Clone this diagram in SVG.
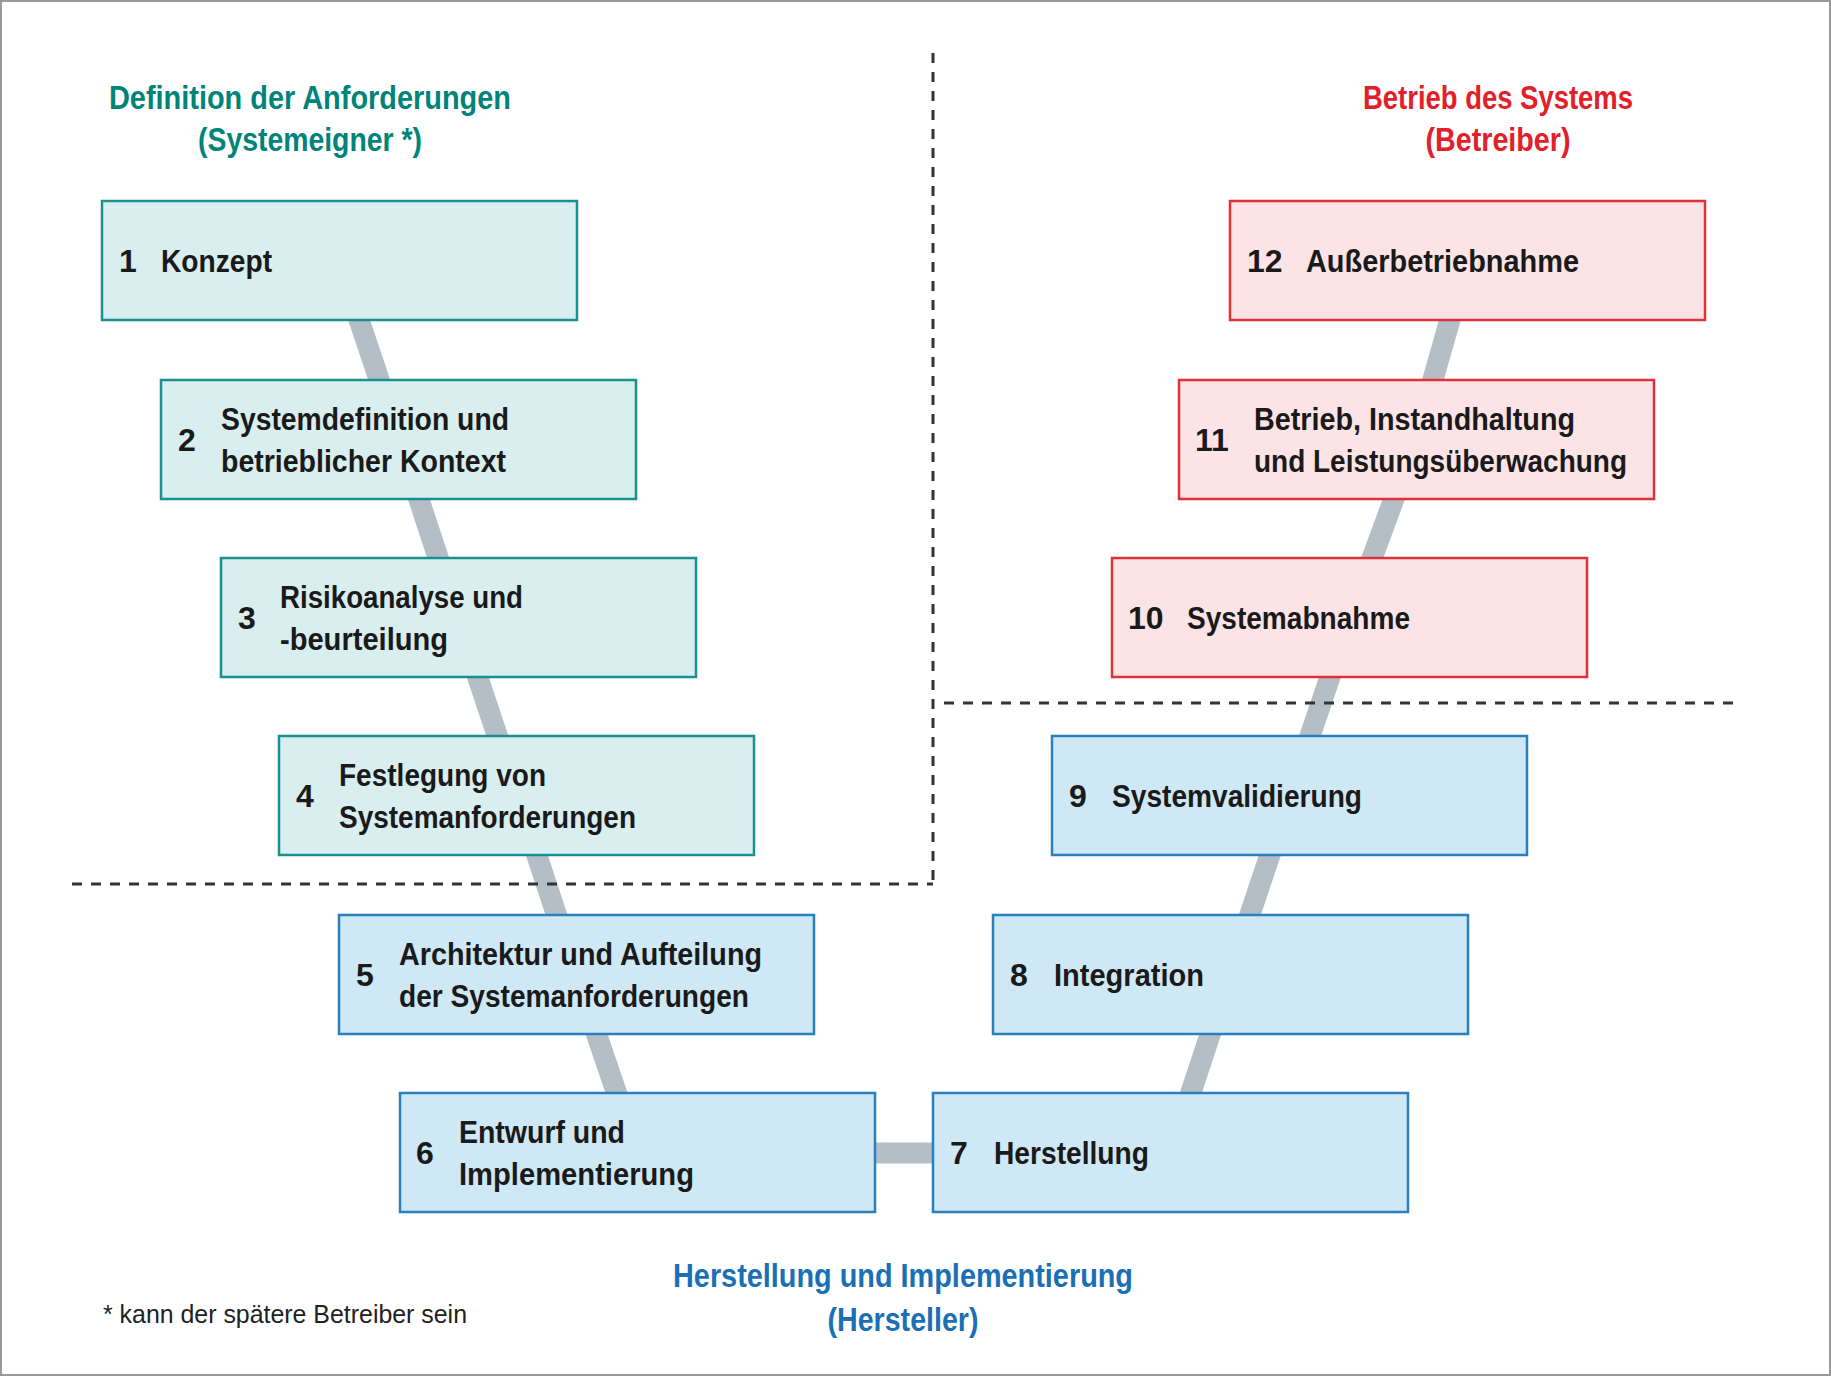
<svg xmlns="http://www.w3.org/2000/svg" width="1831" height="1376" viewBox="0 0 1831 1376">
<style>
.t{font-family:"Liberation Sans",Arial,sans-serif;font-weight:bold;font-size:32px;fill:#1a1a1a}
.h{font-family:"Liberation Sans",Arial,sans-serif;font-weight:bold;font-size:33px;text-anchor:middle}
.g rect{stroke-width:2.5}
.teal rect{fill:#d9eeee;stroke:#1a9090}
.red rect{fill:#fce4e6;stroke:#e0303a}
.blue rect{fill:#cfe8f5;stroke:#2a7fbf}
.d{stroke:#333;stroke-width:3;stroke-dasharray:10 9;fill:none}
</style>
<rect x="1" y="1" width="1829" height="1374" fill="#fff" stroke="#999" stroke-width="2"/>
<g id="connectors" stroke="#b3bec6" stroke-width="21" fill="none">
<polyline points="339,260 399,439 458,618 517,795 576,974 637,1153 1171,1153 1230,974 1290,795 1350,618 1416,439 1467,260"/>
</g>
<g id="dividers">
<line class="d" x1="933" y1="53" x2="933" y2="884"/>
<line class="d" x1="72" y1="884" x2="933" y2="884"/>
<line class="d" x1="944" y1="703" x2="1737" y2="703"/>
</g>
<g id="titles">
<text class="h" fill="#00847a" x="310" y="109" textLength="402" lengthAdjust="spacingAndGlyphs">Definition der Anforderungen</text>
<text class="h" fill="#00847a" x="310" y="151" textLength="224" lengthAdjust="spacingAndGlyphs">(Systemeigner *)</text>
<text class="h" fill="#e3202a" x="1498" y="109" textLength="270" lengthAdjust="spacingAndGlyphs">Betrieb des Systems</text>
<text class="h" fill="#e3202a" x="1498" y="151" textLength="145" lengthAdjust="spacingAndGlyphs">(Betreiber)</text>
<text class="h" fill="#1a6fb5" x="903" y="1287" textLength="460" lengthAdjust="spacingAndGlyphs">Herstellung und Implementierung</text>
<text class="h" fill="#1a6fb5" x="903" y="1331" textLength="151" lengthAdjust="spacingAndGlyphs">(Hersteller)</text>
<text x="103" y="1323" font-family="Liberation Sans,Arial,sans-serif" font-size="26" fill="#222" textLength="364" lengthAdjust="spacingAndGlyphs">* kann der spätere Betreiber sein</text>
</g>
<g id="n1" class="g teal"><rect x="102" y="201" width="475" height="119"/><text class="t" x="119" y="272">1</text><text class="t" x="161" y="272" textLength="111" lengthAdjust="spacingAndGlyphs">Konzept</text></g>
<g id="n2" class="g teal"><rect x="161" y="380" width="475" height="119"/><text class="t" x="178" y="451">2</text><text class="t" x="221" y="430" textLength="288" lengthAdjust="spacingAndGlyphs">Systemdefinition und</text><text class="t" x="221" y="472" textLength="285" lengthAdjust="spacingAndGlyphs">betrieblicher Kontext</text></g>
<g id="n3" class="g teal"><rect x="221" y="558" width="475" height="119"/><text class="t" x="238" y="629">3</text><text class="t" x="280" y="608" textLength="243" lengthAdjust="spacingAndGlyphs">Risikoanalyse und</text><text class="t" x="280" y="650" textLength="168" lengthAdjust="spacingAndGlyphs">-beurteilung</text></g>
<g id="n4" class="g teal"><rect x="279" y="736" width="475" height="119"/><text class="t" x="296" y="807">4</text><text class="t" x="339" y="786" textLength="207" lengthAdjust="spacingAndGlyphs">Festlegung von</text><text class="t" x="339" y="828" textLength="297" lengthAdjust="spacingAndGlyphs">Systemanforderungen</text></g>
<g id="n5" class="g blue"><rect x="339" y="915" width="475" height="119"/><text class="t" x="356" y="986">5</text><text class="t" x="399" y="965" textLength="363" lengthAdjust="spacingAndGlyphs">Architektur und Aufteilung</text><text class="t" x="399" y="1007" textLength="350" lengthAdjust="spacingAndGlyphs">der Systemanforderungen</text></g>
<g id="n6" class="g blue"><rect x="400" y="1093" width="475" height="119"/><text class="t" x="416" y="1164">6</text><text class="t" x="459" y="1143" textLength="166" lengthAdjust="spacingAndGlyphs">Entwurf und</text><text class="t" x="459" y="1185" textLength="235" lengthAdjust="spacingAndGlyphs">Implementierung</text></g>
<g id="n7" class="g blue"><rect x="933" y="1093" width="475" height="119"/><text class="t" x="950" y="1164">7</text><text class="t" x="994" y="1164" textLength="155" lengthAdjust="spacingAndGlyphs">Herstellung</text></g>
<g id="n8" class="g blue"><rect x="993" y="915" width="475" height="119"/><text class="t" x="1010" y="986">8</text><text class="t" x="1054" y="986" textLength="150" lengthAdjust="spacingAndGlyphs">Integration</text></g>
<g id="n9" class="g blue"><rect x="1052" y="736" width="475" height="119"/><text class="t" x="1069" y="807">9</text><text class="t" x="1112" y="807" textLength="250" lengthAdjust="spacingAndGlyphs">Systemvalidierung</text></g>
<g id="n10" class="g red"><rect x="1112" y="558" width="475" height="119"/><text class="t" x="1128" y="629">10</text><text class="t" x="1187" y="629" textLength="223" lengthAdjust="spacingAndGlyphs">Systemabnahme</text></g>
<g id="n11" class="g red"><rect x="1179" y="380" width="475" height="119"/><text class="t" x="1195" y="451">11</text><text class="t" x="1254" y="430" textLength="321" lengthAdjust="spacingAndGlyphs">Betrieb, Instandhaltung</text><text class="t" x="1254" y="472" textLength="373" lengthAdjust="spacingAndGlyphs">und Leistungsüberwachung</text></g>
<g id="n12" class="g red"><rect x="1230" y="201" width="475" height="119"/><text class="t" x="1247" y="272">12</text><text class="t" x="1306" y="272" textLength="273" lengthAdjust="spacingAndGlyphs">Außerbetriebnahme</text></g>
</svg>
